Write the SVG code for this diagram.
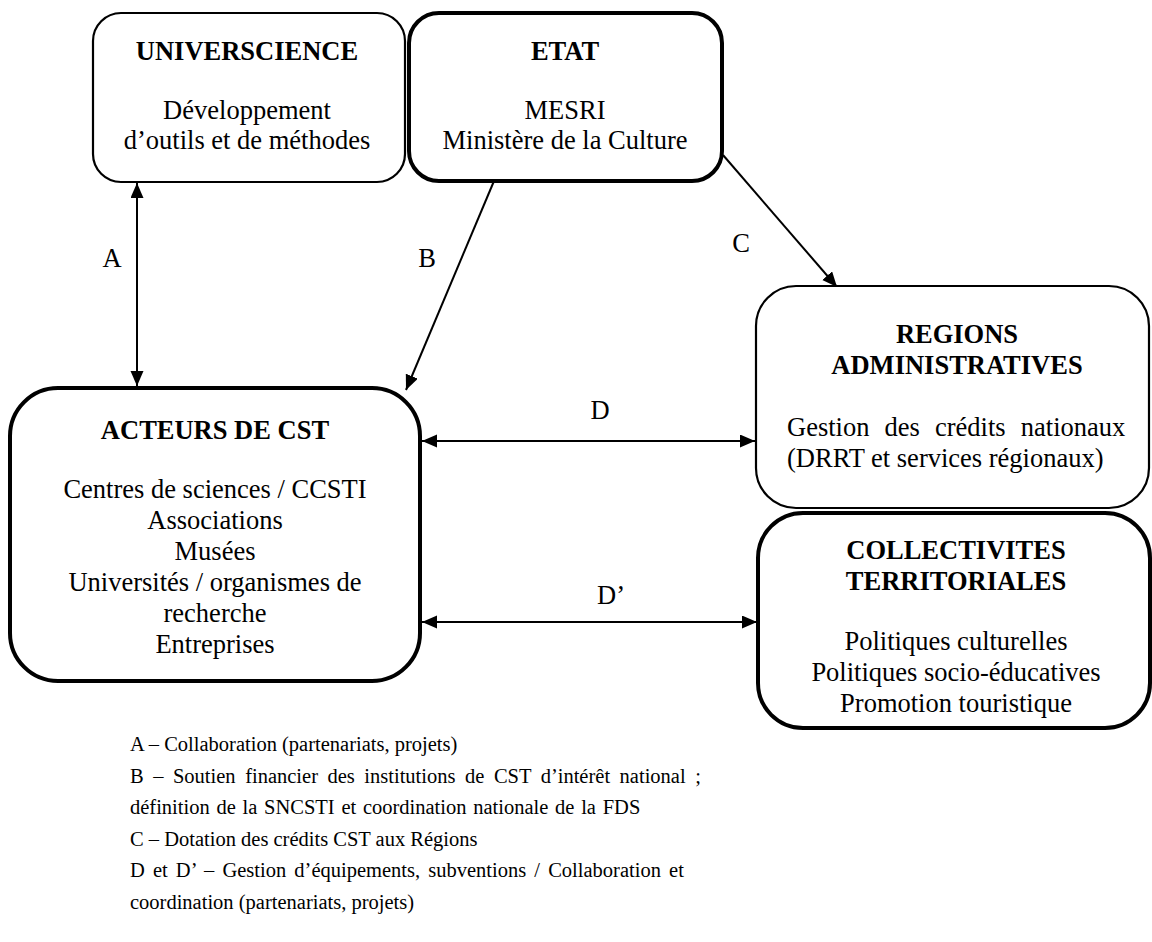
<svg xmlns="http://www.w3.org/2000/svg" width="1152" height="942" viewBox="0 0 1152 942" font-family="'Liberation Serif', 'Times New Roman', Tinos, 'DejaVu Serif', serif">
<style>
text{font-family:'Liberation Serif', 'Times New Roman', Tinos, 'DejaVu Serif', serif;fill:#000}
.t{font-size:26.5px;text-anchor:middle}
.b{font-weight:bold}
.lg{font-size:20.5px}
.box{fill:#fff;stroke:#000}
.thin{stroke-width:2.2}
.thick{stroke-width:4}
.con{stroke:#000;stroke-width:2;fill:none}
</style>
<defs>
<marker id="ah" markerUnits="userSpaceOnUse" markerWidth="16" markerHeight="14" refX="15" refY="6.5" orient="auto-start-reverse">
<path d="M0,0 L15,6.5 L0,13 z" fill="#000"/>
</marker>
</defs>
<rect width="1152" height="942" fill="#fff"/>
<g id="connectors">
<line class="con" x1="137" y1="183" x2="137" y2="386" marker-start="url(#ah)" marker-end="url(#ah)"/>
<line class="con" x1="494" y1="181" x2="406" y2="390" marker-end="url(#ah)"/>
<line class="con" x1="723" y1="155" x2="837" y2="287" marker-end="url(#ah)"/>
<line class="con" x1="422" y1="441" x2="755" y2="441" marker-start="url(#ah)" marker-end="url(#ah)"/>
<line class="con" x1="422" y1="622" x2="757" y2="622" marker-start="url(#ah)" marker-end="url(#ah)"/>
<text class="t" x="112" y="267">A</text>
<text class="t" x="427" y="267">B</text>
<text class="t" x="741" y="252">C</text>
<text class="t" x="600" y="419">D</text>
<text class="t" x="611" y="604">D’</text>
</g>
<g id="universcience">
<rect class="box thin" x="93" y="13" width="312" height="169" rx="28"/>
<text class="t b" x="247" y="60">UNIVERSCIENCE</text>
<text class="t" x="247" y="119">Développement</text>
<text class="t" x="247" y="149">d’outils et de méthodes</text>
</g>
<g id="etat">
<rect class="box thick" x="409" y="13" width="313" height="168" rx="30"/>
<text class="t b" x="565" y="60">ETAT</text>
<text class="t" x="565" y="119">MESRI</text>
<text class="t" x="565" y="149">Ministère de la Culture</text>
</g>
<g id="acteurs">
<rect class="box thick" x="10" y="388" width="410" height="293" rx="48"/>
<text class="t b" x="215" y="439">ACTEURS DE CST</text>
<text class="t" x="215" y="498">Centres de sciences / CCSTI</text>
<text class="t" x="215" y="529">Associations</text>
<text class="t" x="215" y="560">Musées</text>
<text class="t" x="215" y="591">Universités / organismes de</text>
<text class="t" x="215" y="622">recherche</text>
<text class="t" x="215" y="653">Entreprises</text>
</g>
<g id="regions">
<rect class="box thin" x="756" y="286" width="393" height="222" rx="40"/>
<text class="t b" x="957" y="343">REGIONS</text>
<text class="t b" x="957" y="374">ADMINISTRATIVES</text>
<text class="t" x="787" y="436" style="text-anchor:start" word-spacing="8.5">Gestion des crédits nationaux</text>
<text class="t" x="787" y="467" style="text-anchor:start">(DRRT et services régionaux)</text>
</g>
<g id="collectivites">
<rect class="box thick" x="758" y="513" width="392" height="215" rx="45"/>
<text class="t b" x="956" y="559">COLLECTIVITES</text>
<text class="t b" x="956" y="590">TERRITORIALES</text>
<text class="t" x="956" y="650">Politiques culturelles</text>
<text class="t" x="956" y="681">Politiques socio-éducatives</text>
<text class="t" x="956" y="712">Promotion touristique</text>
</g>
<g id="legend">
<text class="lg" x="130" y="751">A – Collaboration (partenariats, projets)</text>
<text class="lg" x="130" y="783" word-spacing="4.4">B – Soutien financier des institutions de CST d’intérêt national ;</text>
<text class="lg" x="130" y="814" word-spacing="1.6">définition de la SNCSTI et coordination nationale de la FDS</text>
<text class="lg" x="130" y="846">C – Dotation des crédits CST aux Régions</text>
<text class="lg" x="130" y="877" word-spacing="3">D et D’ – Gestion d’équipements, subventions / Collaboration et</text>
<text class="lg" x="130" y="909">coordination (partenariats, projets)</text>
</g>
</svg>
